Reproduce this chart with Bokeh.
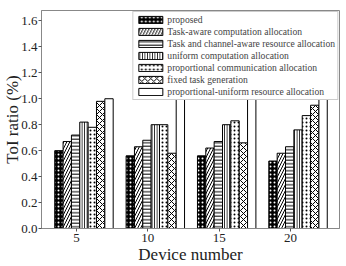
from bokeh.plotting import figure
from bokeh.models import FixedTicker, Range1d, Legend, LegendItem
from bokeh.embed import file_html
from bokeh.resources import INLINE

devices = [5, 10, 15, 20]
device_labels = ["5", "10", "15", "20"]
series_names = [
    "proposed",
    "Task-aware computation allocation",
    "Task and channel-aware resource allocation",
    "uniform computation allocation",
    "proportional communication allocation",
    "fixed task generation",
    "proportional-uniform resource allocation",
]
proposed = [0.60, 0.56, 0.56, 0.52]
task_aware = [0.67, 0.63, 0.62, 0.58]
task_channel = [0.72, 0.68, 0.67, 0.63]
uniform_comp = [0.82, 0.80, 0.80, 0.76]
prop_comm = [0.78, 0.80, 0.83, 0.87]
fixed_task = [0.98, 0.58, 0.66, 0.95]
prop_uniform = [1.00, 1.50, 1.50, 1.50]
series_values = [proposed, task_aware, task_channel, uniform_comp, prop_comm, fixed_task, prop_uniform]
y_ticks = [0.0, 0.2, 0.4, 0.6, 0.8, 1.0, 1.2, 1.4, 1.6]

styles = [
    dict(fill_color="black", hatch_pattern=".", hatch_color="white", hatch_scale=4, hatch_weight=1.5),
    dict(fill_color="white", hatch_pattern="/", hatch_color="black", hatch_scale=6, hatch_weight=1),
    dict(fill_color="white", hatch_pattern="-", hatch_color="black", hatch_scale=3.5, hatch_weight=1),
    dict(fill_color="white", hatch_pattern="|", hatch_color="black", hatch_scale=2.5, hatch_weight=1),
    dict(fill_color="white", hatch_pattern=".", hatch_color="black", hatch_scale=4, hatch_weight=1),
    dict(fill_color="white", hatch_pattern="x", hatch_color="black", hatch_scale=6, hatch_weight=1),
    dict(fill_color="white"),
]

FONT = "Liberation Serif"

p = figure(width=346, height=266, output_backend="svg", toolbar_location=None,
           x_range=Range1d(2.55, 23.43), y_range=Range1d(0, 1.68),
           min_border_left=41, min_border_right=7, min_border_top=10, min_border_bottom=38,
           min_border=0)

w = 0.585
items = []
for k, (name, vals, st) in enumerate(zip(series_names, series_values, styles)):
    xs = [d + (k - 2) * w - 0.06 for d in devices]
    r = p.vbar(x=xs, top=vals, width=w, bottom=0, line_color="black", line_width=1, **st)
    items.append(LegendItem(label=name, renderers=[r]))

legend = Legend(items=items, location="top_right")
legend.label_text_font = FONT
legend.label_text_font_size = "9.6px"
legend.glyph_width = 30
legend.glyph_height = 9
legend.label_height = 10
legend.label_standoff = 2
legend.spacing = 1
legend.padding = 2
legend.margin = 1
legend.border_line_color = "#999999"
legend.background_fill_alpha = 1.0
p.add_layout(legend, "center")

p.xgrid.visible = False
p.ygrid.visible = False
p.outline_line_color = "#888888"

p.xaxis.ticker = FixedTicker(ticks=devices)
p.xaxis.major_label_overrides = {d: l for d, l in zip(devices, device_labels)}
p.yaxis.ticker = FixedTicker(ticks=y_ticks)
p.yaxis.major_label_overrides = {t: f"{t:.1f}" for t in y_ticks}
p.xaxis.axis_label = "Device number"
p.yaxis.axis_label = "ToI ratio (%)"
for ax in (p.xaxis, p.yaxis):
    ax.axis_line_color = "#888888"
    ax.major_tick_line_color = "#555555"
    ax.major_tick_in = 0
    ax.major_tick_out = 3
    ax.minor_tick_line_color = None
    ax.major_label_text_font = FONT
    ax.major_label_text_font_size = "13px"
    ax.major_label_text_color = "#222222"
    ax.axis_label_text_font = FONT
    ax.axis_label_text_font_size = "17px"
    ax.axis_label_text_font_style = "normal"
    ax.axis_label_text_color = "#222222"
p.xaxis.axis_label_standoff = 0
p.yaxis.axis_label_standoff = -4
p.xaxis.major_label_standoff = 2
p.yaxis.major_label_standoff = 1

open("out.html", "w").write(file_html(p, INLINE))
